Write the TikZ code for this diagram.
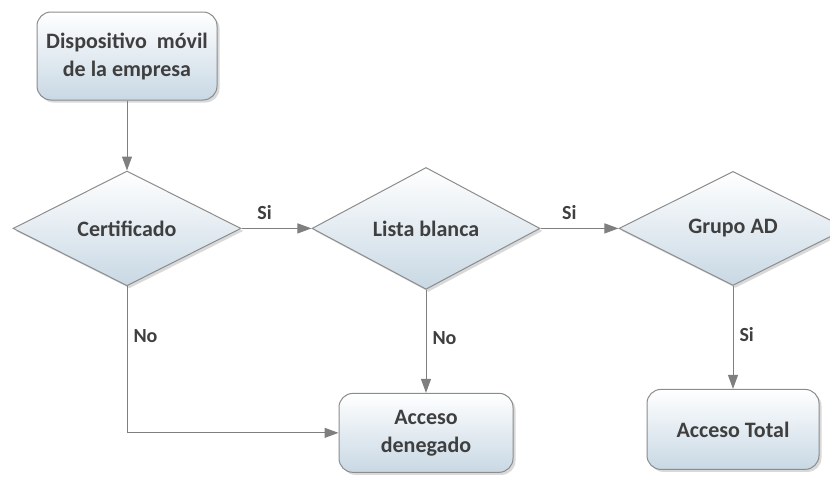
\documentclass[tikz,border=0pt]{standalone}
\usepackage{fontspec}
\setmainfont{Carlito}
\usetikzlibrary{shapes.geometric, arrows.meta, positioning, shadows}

\definecolor{boxline}{HTML}{8C8C8C}
\definecolor{boxfill}{HTML}{C8D8E4}
\definecolor{txtgray}{HTML}{3F3F3F}
\definecolor{arrgray}{HTML}{7F7F7F}

\begin{document}
\begin{tikzpicture}[
    x=1pt, y=1pt,
    font=\fontsize{22}{28}\selectfont\bfseries,
    text=txtgray,
    base/.style={
      draw=boxline, line width=1pt,
      top color=white, bottom color=boxfill,
      drop shadow={opacity=0.3, shadow xshift=2.5pt, shadow yshift=-2.5pt},
      align=center, inner sep=0pt
    },
    roundbox/.style={base, rounded corners=14pt},
    decision/.style={base, diamond, minimum width=228pt, minimum height=114pt},
    lbl/.style={font=\fontsize{20}{24}\selectfont\bfseries, text=txtgray, inner sep=2pt},
    arr/.style={-{Triangle[length=14pt, width=10pt]}, draw=arrgray, line width=1pt}
  ]
  \useasboundingbox (0,0) rectangle (830,-479);

  % ===== Nodes =====
  \node[roundbox, minimum width=180pt, minimum height=88pt] (device) at (127,-56)
    {Dispositivo\ \ móvil\\de la empresa};
  \node[decision, below=70pt of device] (cert) {Certificado};
  \node[decision, right=70pt of cert] (white) {Lista blanca};
  \node[decision, right=78pt of white] (group) {Grupo AD};
  \node[roundbox, minimum width=174pt, minimum height=79pt, below=103pt of white] (denied)
    {Acceso\\denegado};
  \node[roundbox, minimum width=172pt, minimum height=80pt, below=103pt of group] (total)
    {Acceso Total};

  % ===== Connections =====
  \draw[arr] (device) -- (cert);
  \draw[arr] (cert) -- node[lbl, pos=0.33, above=6pt] {Si} (white);
  \draw[arr] (white) -- node[lbl, pos=0.37, above=6pt] {Si} (group);
  \draw[arr] (cert.south) |- node[lbl, pos=0.17, right=4pt] {No} (denied.west);
  \draw[arr] (white) -- node[lbl, pos=0.47, right=4pt] {No} (denied);
  \draw[arr] (group) -- node[lbl, pos=0.47, right=4pt] {Si} (total);
\end{tikzpicture}
\end{document}
